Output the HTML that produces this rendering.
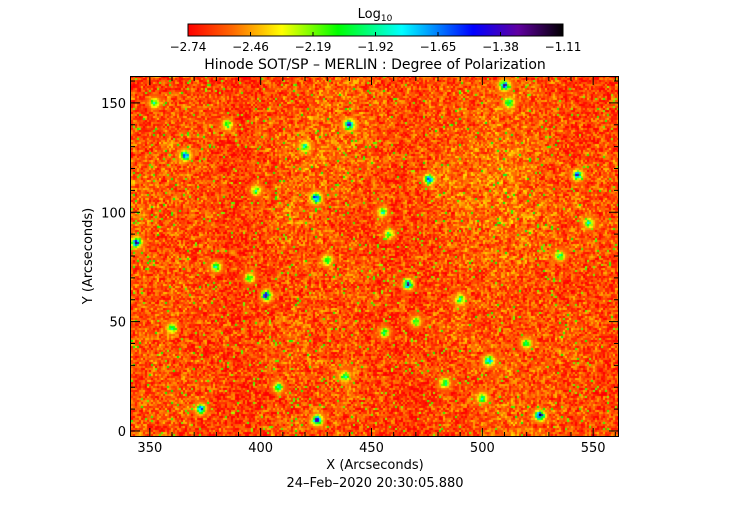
<!DOCTYPE html>
<html><head><meta charset="utf-8"><style>
html,body{margin:0;padding:0;background:#fff;width:750px;height:512px;overflow:hidden}
svg text{font-family:"DejaVu Sans","Liberation Sans",sans-serif;fill:#000}
</style></head><body>
<svg id="svg" width="750" height="512" xmlns="http://www.w3.org/2000/svg">
<defs><linearGradient id="cbg" x1="0" x2="1" y1="0" y2="0">
<stop offset="0" stop-color="#ff0000"/><stop offset="0.12" stop-color="#ff6a00"/>
<stop offset="0.25" stop-color="#ffff00"/><stop offset="0.4" stop-color="#00ff00"/>
<stop offset="0.57" stop-color="#00ffff"/><stop offset="0.76" stop-color="#0000ff"/>
<stop offset="0.88" stop-color="#6000a0"/><stop offset="1" stop-color="#000000"/></linearGradient></defs>
<text x="375" y="18" font-size="13" text-anchor="middle">Log<tspan font-size="9" dy="3">10</tspan></text>
<rect x="188" y="24" width="375" height="12" fill="url(#cbg)" stroke="#000" stroke-width="1"/>
<g id="cbticks"></g>
<text x="375" y="69" font-size="14" text-anchor="middle">Hinode SOT/SP – MERLIN : Degree of Polarization</text>
<foreignObject x="131" y="76" width="487" height="360"><canvas xmlns="http://www.w3.org/1999/xhtml" id="cv" width="487" height="360" style="display:block"></canvas></foreignObject>
<rect x="130.5" y="76.5" width="488" height="360" fill="none" stroke="#000"/>
<g id="axes"></g>
<text x="375" y="469" font-size="13" text-anchor="middle">X (Arcseconds)</text>
<text x="375" y="487" font-size="13" text-anchor="middle">24–Feb–2020 20:30:05.880</text>
<text x="0" y="0" font-size="13" text-anchor="middle" transform="translate(92,256) rotate(-90)">Y (Arcseconds)</text>
</svg>
<script>
const cbTickLabels=["−2.74","−2.46","−2.19","−1.92","−1.65","−1.38","−1.11"];
const xTicks=[350,400,450,500,550];
const yTicks=[0,50,100,150];
const vmin=-2.74, vmax=-1.11;
const baseGrid=[
[-2.62,-2.60,-2.64,-2.60,-2.57,-2.62,-2.60,-2.57,-2.62,-2.64],
[-2.60,-2.57,-2.62,-2.57,-2.54,-2.60,-2.57,-2.54,-2.60,-2.62],
[-2.57,-2.57,-2.64,-2.54,-2.57,-2.62,-2.54,-2.52,-2.60,-2.57],
[-2.57,-2.60,-2.62,-2.57,-2.60,-2.64,-2.57,-2.54,-2.57,-2.60],
[-2.60,-2.57,-2.64,-2.60,-2.57,-2.62,-2.60,-2.57,-2.62,-2.60],
[-2.57,-2.60,-2.62,-2.57,-2.60,-2.64,-2.57,-2.60,-2.57,-2.62],
[-2.60,-2.57,-2.64,-2.60,-2.57,-2.64,-2.60,-2.57,-2.60,-2.64],
[-2.57,-2.60,-2.64,-2.57,-2.60,-2.64,-2.60,-2.54,-2.60,-2.62]];
const featX=[402.6,425,425.5,344,466.5,510,526,440,366,373,476,503,543,395,380,456,500,458,420,520,430,483,408,360,385,398,455,470,512,548,352,438,490,535];
const featY=[62,106.5,5,86,67,158,7,140,126,10,115,32,117,70,75,45,15,90,130,40,78,22,20,47,140,110,100,50,150,95,150,25,60,80];
const featV=[-1.4,-1.45,-1.35,-1.45,-1.45,-1.5,-1.4,-1.5,-1.55,-1.6,-1.6,-1.6,-1.6,-1.9,-1.85,-1.95,-1.9,-1.95,-1.9,-1.95,-1.95,-1.9,-1.9,-1.9,-1.95,-1.95,-1.95,-1.95,-1.9,-1.95,-1.95,-1.95,-1.95,-1.95];
const xMin=341.5,xMax=561.2,yMin=-2.3,yMax=162.3;
const PX0=131,PY0=76,PW=487,PH=360;
const sx=v=>PX0+(v-xMin)/(xMax-xMin)*PW;
const sy=v=>PY0+PH-(v-yMin)/(yMax-yMin)*PH;
const NS="http://www.w3.org/2000/svg";
function mk(t,a,p,name){const e=document.createElementNS(NS,t);for(const k in a)e.setAttribute(k,a[k]);p.appendChild(e);


return e;}
const cb=document.getElementById('cbticks');
cbTickLabels.forEach((l,i)=>{const x=188+i*375/6;
 mk('line',{x1:x,x2:x,y1:36,y2:32,stroke:'#000'},cb,'colorbar-tick');
 const t=mk('text',{x:x,y:51,'font-size':12,'text-anchor':'middle'},cb,'colorbar-tick-label');t.textContent=l;});
const ax=document.getElementById('axes');
xTicks.forEach(v=>{const x=sx(v);
 mk('line',{x1:x,x2:x,y1:436,y2:428,stroke:'#000'},ax,'x-tick');
 mk('line',{x1:x,x2:x,y1:77,y2:85,stroke:'#000'},ax,'x-tick-top');
 const t=mk('text',{x:x,y:452,'font-size':13,'text-anchor':'middle'},ax,'x-tick-label');t.textContent=v;});
for(let v=340;v<=560;v+=10){if(v%50==0)continue;const x=sx(v);if(x<131||x>618)continue;
 mk('line',{x1:x,x2:x,y1:436,y2:432,stroke:'#000'},ax,'x-minor-tick');mk('line',{x1:x,x2:x,y1:77,y2:81,stroke:'#000'},ax,'x-minor-tick-top');}
yTicks.forEach(v=>{const y=sy(v);
 mk('line',{x1:131,x2:140,y1:y,y2:y,stroke:'#000'},ax,'y-tick');
 mk('line',{x1:618,x2:609,y1:y,y2:y,stroke:'#000'},ax,'y-tick-right');
 const t=mk('text',{x:126,y:y+5,'font-size':13,'text-anchor':'end'},ax,'y-tick-label');t.textContent=v;});
for(let v=10;v<=160;v+=10){if(v%50==0)continue;const y=sy(v);
 mk('line',{x1:131,x2:135,y1:y,y2:y,stroke:'#000'},ax,'y-minor-tick');mk('line',{x1:618,x2:614,y1:y,y2:y,stroke:'#000'},ax,'y-minor-tick-right');}
const stops=[[0,255,0,0],[0.12,255,106,0],[0.25,255,255,0],[0.4,0,255,0],[0.57,0,255,255],[0.76,0,0,255],[0.88,96,0,160],[1,0,0,0]];
function cmap(t){t=Math.max(0,Math.min(1,t));for(let i=1;i<stops.length;i++){if(t<=stops[i][0]){const a=stops[i-1],b=stops[i],f=(t-a[0])/(b[0]-a[0]);return [a[1]+(b[1]-a[1])*f,a[2]+(b[2]-a[2])*f,a[3]+(b[3]-a[3])*f];}}return [0,0,0];}
function h(i,j){let n=(i*374761393+j*668265263)|0;n=(n^(n>>>13))*1274126177|0;return ((n^(n>>>16))>>>0)/4294967295;}
const cv=document.getElementById('cv'),ctx=cv.getContext('2d');
const img=ctx.createImageData(PW,PH);const C=2;
const gr=baseGrid.length,gc=baseGrid[0].length;
for(let j=0;j<PH;j+=C)for(let i=0;i<PW;i+=C){
 const gx=i/PW*(gc-1),gy=j/PH*(gr-1),x0=Math.floor(gx),y0=Math.floor(gy),x1=Math.min(gc-1,x0+1),y1=Math.min(gr-1,y0+1),fx=gx-x0,fy=gy-y0;
 let base=baseGrid[y0][x0]*(1-fx)*(1-fy)+baseGrid[y0][x1]*fx*(1-fy)+baseGrid[y1][x0]*(1-fx)*fy+baseGrid[y1][x1]*fx*fy;
 const n=h(i>>1,j>>1),n2=h((i>>2)+999,(j>>2)+77);
 let v=base+(n-0.5)*0.28+(n2-0.5)*0.12;
 if(n>0.975)v+=0.3;
 const dx=xMin+(i+1)/PW*(xMax-xMin),dy=yMax-(j+1)/PH*(yMax-yMin);
 for(let k=0;k<featX.length;k++){const ex=dx-featX[k],ey=dy-featY[k],d2=ex*ex+ey*ey;if(d2<20){const w=Math.exp(-d2/4);const pv=base+(featV[k]-base)*w*(0.6+0.7*n);if(pv>v)v=pv;}}
 const c=cmap((v-vmin)/(vmax-vmin));
 for(let b=0;b<C;b++)for(let a=0;a<C;a++){if(i+a>=PW||j+b>=PH)continue;const p=((j+b)*PW+i+a)*4;img.data[p]=c[0];img.data[p+1]=c[1];img.data[p+2]=c[2];img.data[p+3]=255;}
}
ctx.putImageData(img,0,0);
</script>
</body></html>
